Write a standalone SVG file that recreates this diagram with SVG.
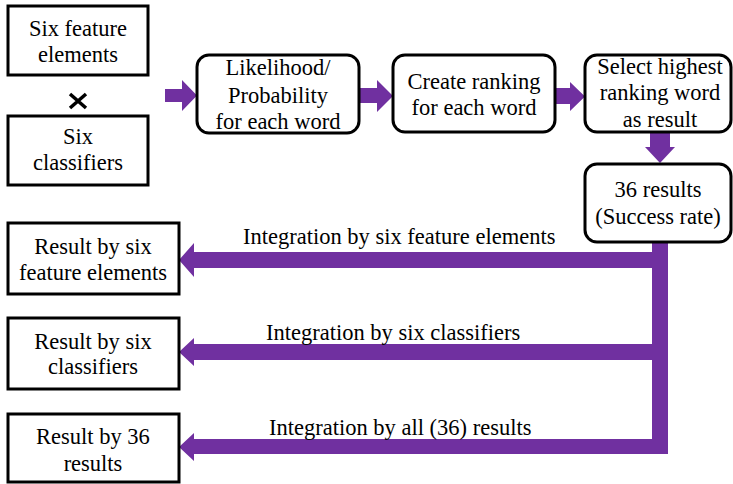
<svg xmlns="http://www.w3.org/2000/svg" width="733" height="484" viewBox="0 0 733 484">
<style>
.box{fill:#fff;stroke:#000;stroke-width:3}
text{font-family:'Liberation Serif','Times New Roman',serif;font-size:22.5px;fill:#000}
.t{text-anchor:middle}
.arr{fill:#7030A0}
</style>
<rect width="733" height="484" fill="#fff"/>
<g id="connectors">
<polygon class="arr" points="165,89 182,89 182,80 197,95.5 182,111 182,102 165,102"/>
<polygon class="arr" points="360,88 377,88 377,80 393,96 377,112 377,103 360,103"/>
<polygon class="arr" points="556,88 570,88 570,82 585,96.5 570,111 570,104 556,104"/>
<polygon class="arr" points="650,133 670,133 670,147 675,147 660,163 645,147 650,147"/>
<rect class="arr" x="652" y="242" width="16" height="212"/>
<polygon class="arr" points="668,252 194,252 194,243 179,260 194,277 194,268 668,268"/>
<polygon class="arr" points="668,344 194,344 194,338 179,352 194,366 194,360 668,360"/>
<polygon class="arr" points="668,439 194,439 194,433 179,447 194,461 194,454 668,454"/>
<text x="243" y="244">Integration by six feature elements</text>
<text x="266" y="340">Integration by six classifiers</text>
<text x="269" y="435">Integration by all (36) results</text>
</g>
<g id="n-features">
<rect class="box" x="8" y="6" width="140" height="69"/>
<text class="t" x="78" y="36">Six feature</text>
<text class="t" x="78" y="62">elements</text>
</g>
<g id="n-times">
<path d="M70,94 L86,108 M86,94 L70,108" stroke="#000" stroke-width="3.5" fill="none"/>
</g>
<g id="n-classifiers">
<rect class="box" x="8" y="116" width="140" height="69"/>
<text class="t" x="78" y="144">Six</text>
<text class="t" x="78" y="170">classifiers</text>
</g>
<g id="n-likelihood">
<rect class="box" x="197" y="55" width="162" height="78" rx="12"/>
<text class="t" x="278" y="75">Likelihood/</text>
<text class="t" x="278" y="103">Probability</text>
<text class="t" x="278" y="129">for each word</text>
</g>
<g id="n-ranking">
<rect class="box" x="393" y="55" width="162" height="77" rx="12"/>
<text class="t" x="474" y="89">Create ranking</text>
<text class="t" x="474" y="115">for each word</text>
</g>
<g id="n-select">
<rect class="box" x="585" y="55" width="146" height="77" rx="12"/>
<text class="t" x="660" y="74">Select highest</text>
<text class="t" x="660" y="100">ranking word</text>
<text class="t" x="660" y="127">as result</text>
</g>
<g id="n-results36">
<rect class="box" x="585" y="164" width="146" height="78" rx="12"/>
<text class="t" x="658" y="197">36 results</text>
<text class="t" x="658" y="224">(Success rate)</text>
</g>
<g id="n-res-features">
<rect class="box" x="8" y="223" width="171" height="71"/>
<text class="t" x="93" y="254">Result by six</text>
<text class="t" x="93" y="280">feature elements</text>
</g>
<g id="n-res-classifiers">
<rect class="box" x="8" y="318" width="171" height="71"/>
<text class="t" x="93" y="349">Result by six</text>
<text class="t" x="93" y="374">classifiers</text>
</g>
<g id="n-res-36">
<rect class="box" x="8" y="414" width="171" height="68"/>
<text class="t" x="93" y="444">Result by 36</text>
<text class="t" x="93" y="471">results</text>
</g>
</svg>
